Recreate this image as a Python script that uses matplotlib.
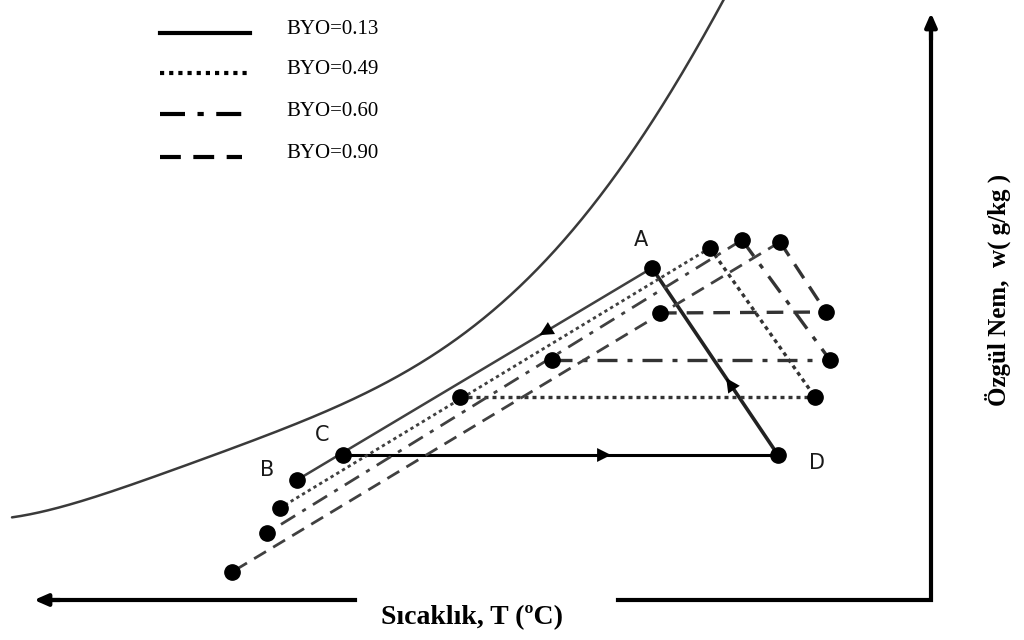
import numpy as np
import matplotlib
matplotlib.use("Agg")
import matplotlib.pyplot as plt

# ---- data (schematic, in image units: x to the right, y downward) ----
byo_labels = ["BYO=0.13", "BYO=0.49", "BYO=0.60", "BYO=0.90"]
# cycle points: A (top), B (bottom-left), C (start of horizontal), D (right)
A_x = [652, 710, 742, 780]
A_y = [268, 248, 240, 242]
B_x = [297, 280, 267, 232]
B_y = [480, 508, 533, 572]
C_x = [343, 460, 552, 660]
C_y = [455, 397, 360, 313]
D_x = [778, 815, 830, 826]
D_y = [455, 397, 360, 312]

# saturation curve
sat_x = [12, 100, 200, 260, 320, 400, 460, 500, 560, 620, 667, 700, 725]
sat_y = [518, 493, 462, 440, 413, 372, 335, 306, 248, 170, 95, 40, 0]

point_labels = ["A", "B", "C", "D"]
label_x = [641, 267, 322, 817]
label_y = [240, 470, 435, 463]

x_label = "Sıcaklık, T (ºC)"
y_label = "Özgül Nem,  w( g/kg )"

styles = ["-", (0, (1.2, 1.2)), (0, (6, 3, 1.5, 3)), (0, (5, 3))]

fig = plt.figure(figsize=(10.24, 6.4), dpi=100)
ax = fig.add_axes([0, 0, 1, 1])
ax.set_xlim(0, 1024)
ax.set_ylim(640, 0)
ax.axis("off")

# saturation curve: smooth polynomial through the read points
coef = np.polyfit(sat_x, sat_y, 5)
xx = np.linspace(sat_x[0], sat_x[-1], 400)
ax.plot(xx, np.polyval(coef, xx), color="#3a3a3a", lw=1.8, solid_capstyle="round")

# cycles
for i in range(4):
    ls = styles[i]
    col_d = "#404040"
    if i == 0:
        ax.plot([A_x[i], B_x[i]], [A_y[i], B_y[i]], color=col_d, lw=1.8, ls="-")
        ax.plot([C_x[i], D_x[i]], [C_y[i], D_y[i]], color="black", lw=2.2, ls="-")
        ax.plot([A_x[i], D_x[i]], [A_y[i], D_y[i]], color="#222222", lw=2.6, ls="-")
    else:
        ax.plot([A_x[i], B_x[i]], [A_y[i], B_y[i]], color=col_d, lw=2.0, ls=ls)
        ax.plot([C_x[i], D_x[i]], [C_y[i], D_y[i]], color="#333333", lw=2.4, ls=ls)
        ax.plot([A_x[i], D_x[i]], [A_y[i], D_y[i]], color="#333333", lw=2.4, ls=ls)
    ax.plot([A_x[i], B_x[i], C_x[i], D_x[i]], [A_y[i], B_y[i], C_y[i], D_y[i]],
            ls="none", marker="o", ms=11, color="black")


def mid_arrow(x0, y0, x1, y1, frac):
    xm = x0 + (x1 - x0) * frac
    ym = y0 + (y1 - y0) * frac
    d = np.hypot(x1 - x0, y1 - y0)
    ux, uy = (x1 - x0) / d, (y1 - y0) / d
    ax.annotate("", xy=(xm + ux * 7, ym + uy * 7), xytext=(xm - ux * 7, ym - uy * 7),
                arrowprops=dict(arrowstyle="-|>,head_length=1.0,head_width=0.5",
                                color="black", lw=0.01, shrinkA=0, shrinkB=0))


mid_arrow(A_x[0], A_y[0], B_x[0], B_y[0], 0.30)
mid_arrow(C_x[0], C_y[0], D_x[0], D_y[0], 0.60)
mid_arrow(D_x[0], D_y[0], A_x[0], A_y[0], 0.38)

for lab, lx, ly in zip(point_labels, label_x, label_y):
    ax.text(lx, ly, lab, fontsize=15, family="DejaVu Sans", fontweight="normal",
            color="#1a1a1a", ha="center", va="center")

# axes lines
ax.plot([355, 42], [600, 600], color="black", lw=3)
ax.plot([618, 931, 931], [600, 600, 25], color="black", lw=3, solid_joinstyle="miter")
ax.annotate("", xy=(34, 600), xytext=(60, 600),
            arrowprops=dict(arrowstyle="-|>,head_length=0.8,head_width=0.35", color="black",
                            lw=3, shrinkA=0, shrinkB=0))
ax.annotate("", xy=(931, 13), xytext=(931, 40),
            arrowprops=dict(arrowstyle="-|>,head_length=0.8,head_width=0.35", color="black",
                            lw=3, shrinkA=0, shrinkB=0))

ax.text(472, 618, x_label, fontsize=20, fontweight="bold", family="Liberation Serif",
        ha="center", va="center")
ax.text(998, 290, y_label, fontsize=18, fontweight="bold", family="Liberation Serif",
        rotation=90, ha="center", va="center")

# legend
leg_y = [33, 73, 114, 157]
for i in range(4):
    x1 = 250 if i < 2 else 242
    ax.plot([160, x1], [leg_y[i], leg_y[i]], color="black", lw=3,
            ls=styles[i] if i != 1 else (0, (1, 1.2)))
    ax.text(286, leg_y[i] - 3, byo_labels[i], fontsize=15, family="Liberation Serif",
            ha="left", va="center")

fig.savefig("out.png", dpi=100)
